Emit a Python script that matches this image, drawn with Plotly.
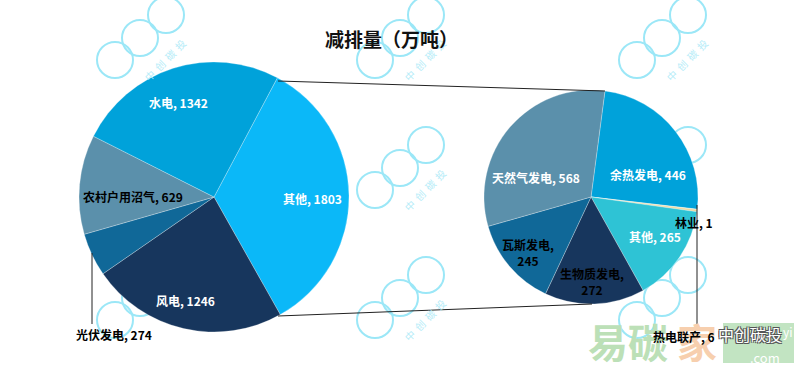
import plotly.graph_objects as go

# ---------------- data ----------------
title_text = "减排量（万吨）"
main_labels = ["其他", "风电", "光伏发电", "农村户用沼气", "水电"]
main_values = [1803, 1246, 274, 629, 1342]
sub_labels = ["余热发电", "林业", "热电联产", "其他", "生物质发电", "瓦斯发电", "天然气发电"]
sub_values = [446, 1, 6, 265, 272, 245, 568]

# ---------------- styles ----------------
W, H = 803, 372
main_colors = ["#0BB8F8", "#17365D", "#106898", "#5B90AB", "#00A2DA"]
sub_colors = ["#00A2DA", "#C4D79B", "#EED9A0", "#2EC3D5", "#17365D", "#106898", "#5B90AB"]
FONT = "Noto Sans CJK SC"

def px_domain(cx, cy, r):
    return dict(x=[(cx - r) / W, (cx + r) / W],
                y=[(H - (cy + r)) / H, (H - (cy - r)) / H])

fig = go.Figure()
fig.add_trace(go.Pie(
    labels=main_labels, values=main_values, sort=False, direction="clockwise",
    rotation=28, textinfo="none", marker=dict(colors=main_colors,
    line=dict(color="rgba(255,255,255,0.45)", width=0.6)),
    domain=px_domain(214, 197, 135), showlegend=False, name="主"))
fig.add_trace(go.Pie(
    labels=sub_labels, values=sub_values, sort=False, direction="clockwise",
    rotation=7.5, textinfo="none", marker=dict(colors=sub_colors,
    line=dict(color="rgba(255,255,255,0.45)", width=0.6)),
    domain=px_domain(591, 197, 107), showlegend=False, name="其他"))

shapes = []
annotations = []

# watermark logos (decorative)
wm_centers = [(140, 38), (400, 38), (662, 38), (140, 168), (400, 168), (662, 168),
              (140, 298), (400, 298), (662, 298)]
wm_text_ok = {(140, 38), (400, 38), (662, 38), (400, 168), (400, 298)}
for (cx, cy) in wm_centers:
    for dx, dy in [(-25, 22), (0, 0), (26, -23)]:
        x0, y0 = cx + dx, cy + dy
        shapes.append(dict(type="circle", xref="x", yref="y", layer="below",
                           x0=x0 - 18, x1=x0 + 18, y0=y0 - 18, y1=y0 + 18,
                           line=dict(color="#9BE7F7", width=2)))
    if (cx, cy) in wm_text_ok:
        annotations.append(dict(x=cx + 24, y=cy + 22, xref="x", yref="y",
                                text="中  创  碳  投", showarrow=False, textangle=-45,
                                font=dict(family=FONT, size=10, color="#B4ECF8")))

# connector lines
line_style = dict(color="#222222", width=1)
shapes.append(dict(type="line", xref="x", yref="y", x0=278, y0=81, x1=605, y1=91, line=line_style))
shapes.append(dict(type="line", xref="x", yref="y", x0=278, y0=316, x1=592, y1=304, line=line_style))
# leader lines
shapes.append(dict(type="line", xref="x", yref="y", x0=92, y0=253, x1=92, y1=324, line=line_style))
shapes.append(dict(type="line", xref="x", yref="y", x0=697, y0=205, x1=697, y1=328, line=line_style))

# title
annotations.append(dict(x=391, y=38, xref="x", yref="y", showarrow=False,
                        text=f"<b>{title_text}</b>",
                        font=dict(family=FONT, size=19, color="#111111")))

# bottom-right site logo (decorative)
shapes.append(dict(type="rect", xref="x", yref="y", x0=723, x1=794, y0=323, y1=363,
                   line=dict(width=0), fillcolor="#C2E4C2", layer="above"))
annotations.append(dict(x=628, y=341, xref="x", yref="y", showarrow=False,
                        text="<b>易碳</b>", font=dict(family=FONT, size=40, color="#BCE0B7")))
annotations.append(dict(x=697, y=341, xref="x", yref="y", showarrow=False,
                        text="<b>家</b>", font=dict(family=FONT, size=40, color="#F7CFAE")))
annotations.append(dict(x=788, y=331, xref="x", yref="y", showarrow=False,
                        text="yi", font=dict(family=FONT, size=12, color="white")))
annotations.append(dict(x=765, y=357, xref="x", yref="y", showarrow=False,
                        text=".com", font=dict(family=FONT, size=13, color="white")))
annotations.append(dict(x=750, y=334, xref="x", yref="y", showarrow=False,
                        text="中创碳投",
                        font=dict(family=FONT, size=16, color="white",
                                  shadow="1px 1px 0 #555, -1px -1px 0 #555, 1px -1px 0 #555, -1px 1px 0 #555")))

# slice labels
main_pos = {"其他": (312, 198, "white"), "风电": (185, 300, "white"),
            "光伏发电": (114, 334, "black"), "农村户用沼气": (133, 196, "black"),
            "水电": (178, 102, "white")}
for name, val in zip(main_labels, main_values):
    x, y, c = main_pos[name]
    annotations.append(dict(x=x, y=y, xref="x", yref="y", showarrow=False,
                            text=f"<b>{name}, {val}</b>",
                            font=dict(family=FONT, size=12, color=c)))

sub_pos = {"余热发电": (648, 174, "white", False), "林业": (694, 222, "black", False),
           "热电联产": (684, 336, "black", False), "其他": (655, 236, "white", False),
           "生物质发电": (592, 281, "black", True), "瓦斯发电": (528, 252, "black", True),
           "天然气发电": (536, 177, "white", False)}
for name, val in zip(sub_labels, sub_values):
    x, y, c, two = sub_pos[name]
    txt = f"<b>{name},<br>{val}</b>" if two else f"<b>{name}, {val}</b>"
    annotations.append(dict(x=x, y=y, xref="x", yref="y", showarrow=False, text=txt,
                            font=dict(family=FONT, size=12, color=c)))

fig.update_layout(
    width=W, height=H, margin=dict(l=0, r=0, t=0, b=0),
    paper_bgcolor="white", plot_bgcolor="white",
    xaxis=dict(range=[0, W], visible=False, fixedrange=True),
    yaxis=dict(range=[H, 0], visible=False, fixedrange=True),
    shapes=shapes, annotations=annotations,
)
fig.write_html("out.html")
